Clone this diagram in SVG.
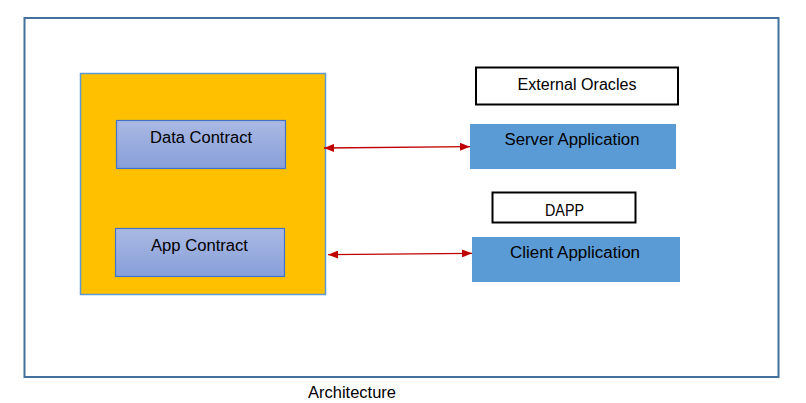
<svg xmlns="http://www.w3.org/2000/svg" width="806" height="403" viewBox="0 0 806 403">
<defs>
<linearGradient id="g" x1="0" y1="0" x2="0" y2="1">
<stop offset="0" stop-color="#AAB9E3"/>
<stop offset="1" stop-color="#879FD9"/>
</linearGradient>
<marker id="ah" viewBox="0 0 10 8" refX="10" refY="4" markerWidth="10" markerHeight="8" markerUnits="userSpaceOnUse" orient="auto-start-reverse">
<path d="M0,0 L10,4 L0,8 z" fill="#C00000"/>
</marker>
<style>
text{font-family:"Liberation Sans",Arial,sans-serif;font-size:16px;fill:#000}
.contract{fill:url(#g);stroke:#4472C4;stroke-width:1.2}
.app{fill:#5B9BD5}
.label{fill:#fff;stroke:#000;stroke-width:2}
.conn{stroke:#C00000;stroke-width:1.3;fill:none;marker-start:url(#ah);marker-end:url(#ah)}
</style>
</defs>
<rect width="806" height="403" fill="#fff"/>
<g id="frame">
<rect x="24.5" y="18" width="754" height="359" fill="none" stroke="#41719C" stroke-width="2"/>
</g>
<g id="blockchain">
<rect x="80.5" y="73.5" width="245" height="221" fill="#FFC000" stroke="#5B9BD5" stroke-width="1.5"/>
</g>
<g id="data-contract">
<rect class="contract" x="116.5" y="120.5" width="169" height="48"/>
<text x="201" y="143.3" text-anchor="middle" textLength="102" lengthAdjust="spacingAndGlyphs">Data Contract</text>
</g>
<g id="app-contract">
<rect class="contract" x="115.5" y="228.5" width="169" height="48"/>
<text x="199.5" y="251" text-anchor="middle" textLength="97" lengthAdjust="spacingAndGlyphs">App Contract</text>
</g>
<g id="external-oracles">
<rect class="label" x="476" y="67.5" width="202" height="37"/>
<text x="577" y="90" text-anchor="middle" textLength="119" lengthAdjust="spacingAndGlyphs">External Oracles</text>
</g>
<g id="server-application">
<rect class="app" x="470" y="124" width="206" height="45"/>
<text x="572" y="145" text-anchor="middle" textLength="135" lengthAdjust="spacingAndGlyphs">Server Application</text>
</g>
<g id="dapp">
<rect class="label" x="492.5" y="192.5" width="143" height="30"/>
<text x="564.5" y="215.7" text-anchor="middle" textLength="39" lengthAdjust="spacingAndGlyphs">DAPP</text>
</g>
<g id="client-application">
<rect class="app" x="472" y="237" width="208" height="45"/>
<text x="575" y="258.3" text-anchor="middle" textLength="130" lengthAdjust="spacingAndGlyphs">Client Application</text>
</g>
<g id="connectors">
<line class="conn" x1="324" y1="148" x2="470" y2="146.7"/>
<line class="conn" x1="328" y1="254.7" x2="472" y2="253.3"/>
</g>
<g id="caption">
<text x="352" y="397.5" text-anchor="middle" textLength="88" lengthAdjust="spacingAndGlyphs">Architecture</text>
</g>
</svg>
